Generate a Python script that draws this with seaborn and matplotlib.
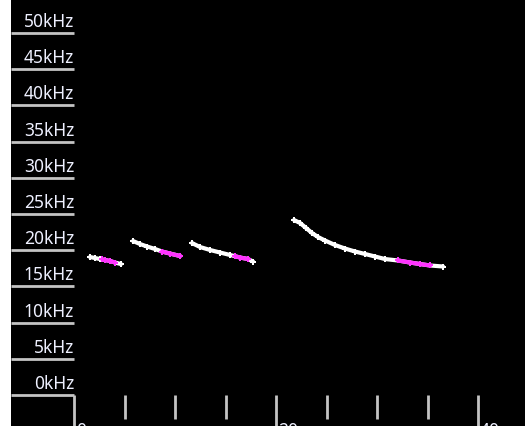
import matplotlib
matplotlib.use("Agg")
import matplotlib.pyplot as plt
import seaborn as sns
import pandas as pd

# Frequency gridlines (kHz) and time ticks (ms)
freq_ticks = [0, 5, 10, 15, 20, 25, 30, 35, 40, 45, 50]
freq_labels = [f"{v}kHz" for v in freq_ticks]
time_minor = [5, 10, 15, 25, 30, 35]
time_major = [0, 20, 40]
time_labels = ["0", "20", "40"]

# Four detected calls: time (ms), peak frequency (kHz), highlighted points
call1_t = [1.58, 2.08, 2.57, 2.80, 3.07, 3.56, 4.06, 4.65]
call1_f = [19.06, 18.92, 18.78, 18.72, 18.65, 18.51, 18.30, 18.09]
call1_hl = [0, 0, 0, 1, 1, 1, 1, 0]

call2_t = [5.84, 6.53, 7.23, 8.02, 8.71, 9.50, 10.50]
call2_f = [21.27, 20.86, 20.51, 20.17, 19.82, 19.54, 19.20]
call2_hl = [0, 0, 0, 0, 1, 1, 1]

call3_t = [11.68, 12.48, 13.47, 14.46, 15.45, 15.94, 16.44, 17.23, 17.72]
call3_f = [20.99, 20.44, 20.03, 19.68, 19.34, 19.17, 18.99, 18.78, 18.44]
call3_hl = [0, 0, 0, 0, 0, 1, 1, 1, 0]

call4_t = [21.78, 22.38, 22.97, 23.56, 24.16, 24.85, 25.84, 26.83, 27.82,
           28.81, 29.80, 30.79, 32.08, 33.27, 34.26, 35.25, 36.53]
call4_f = [24.17, 23.76, 23.07, 22.38, 21.82, 21.34, 20.72, 20.23, 19.82,
           19.48, 19.13, 18.78, 18.58, 18.30, 18.09, 17.89, 17.75]
call4_hl = [0, 0, 0, 0, 0, 0, 0, 0, 0, 0, 0, 0, 1, 1, 1, 1, 0]

frames = []
for cid, (t, f, h) in enumerate([(call1_t, call1_f, call1_hl),
                                 (call2_t, call2_f, call2_hl),
                                 (call3_t, call3_f, call3_hl),
                                 (call4_t, call4_f, call4_hl)]):
    frames.append(pd.DataFrame({"call": cid, "time": t, "freq": f, "hl": h}))
df = pd.concat(frames, ignore_index=True)

sns.set_style("dark")
plt.rcParams["font.family"] = ["Noto Sans", "DejaVu Sans"]

fig = plt.figure(figsize=(5.25, 4.26), dpi=100, facecolor="white")
ax = fig.add_axes([11 / 525, 0, 514 / 525, 1])
ax.set_facecolor("black")
ax.set_xlim(-6.24, 44.65)
ax.set_ylim(-4.28, 54.56)
for s in ax.spines.values():
    s.set_visible(False)
ax.set_xticks([])
ax.set_yticks([])
ax.grid(False)

grid_col = "#c4c4c4"
# Frequency scale: short rules with labels sitting on top of them
ax.hlines(freq_ticks, -6.24, 0, colors=grid_col, linewidth=2.0)
for v, lab in zip(freq_ticks, freq_labels):
    ax.annotate(lab, xy=(0, v), xytext=(0, 6), textcoords="offset pixels",
                ha="right", va="baseline", color="#eef0ff", fontsize=12.5)

# Time scale ticks below the zero line
ax.vlines(time_minor, -3.31, 0, colors=grid_col, linewidth=2.0)
ax.vlines(time_major, -4.28, 0, colors=grid_col, linewidth=2.0)
for v, lab in zip(time_major, time_labels):
    ax.annotate(lab, xy=(v, -4.28), xytext=(2, 4), textcoords="offset pixels",
                ha="left", va="top", color="#eef0ff", fontsize=12.5,
                annotation_clip=False)

# Call traces: white track with the highlighted section in magenta
trace_kw = dict(linewidth=3.0, marker="P", markersize=5, markeredgewidth=0,
                sort=False, estimator=None)
for cid, g in df.groupby("call"):
    sns.lineplot(data=g, x="time", y="freq", ax=ax, color="white", **trace_kw)
    hg = g[g["hl"] == 1]
    sns.lineplot(data=hg, x="time", y="freq", ax=ax, color="#ff33ff", **trace_kw)

ax.set_xlabel("")
ax.set_ylabel("")
fig.savefig("out.png", dpi=100, facecolor="white")
